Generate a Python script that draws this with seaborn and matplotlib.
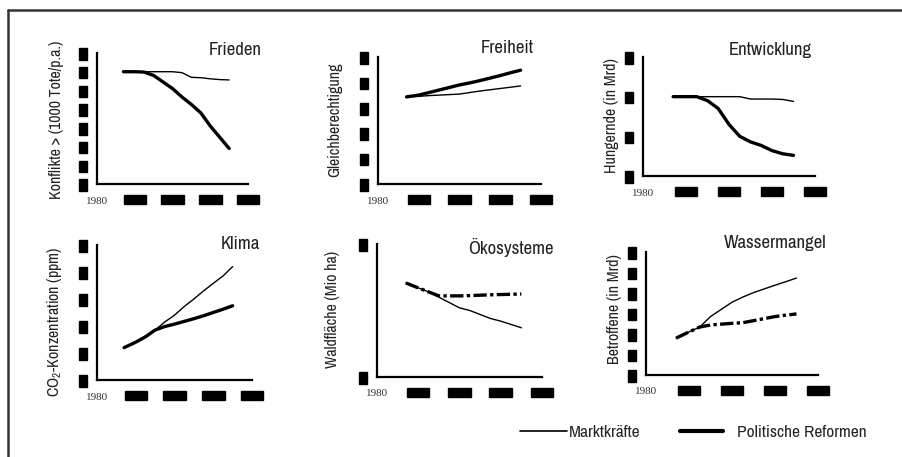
import numpy as np
import pandas as pd
import matplotlib.pyplot as plt
import seaborn as sns
from matplotlib.lines import Line2D
from matplotlib import font_manager

# ── Daten ─────────────────────────────────────────────────────
JAHRE = [1994, 2000, 2005, 2010, 2015, 2020, 2025, 2030, 2035, 2040, 2045, 2050]
X_TICKS = [1980, 2000, 2020, 2040, 2060]

frieden_markt = [6.0, 6.0, 6.0, 6.0, 6.0, 6.0, 5.95, 5.7, 5.68, 5.62, 5.58, 5.56]
frieden_reform = [6.0, 6.0, 5.98, 5.8, 5.45, 5.1, 4.65, 4.25, 3.8, 3.1, 2.5, 1.9]

freiheit_markt = [3.43, 3.45, 3.48, 3.5, 3.52, 3.54, 3.6, 3.66, 3.71, 3.76, 3.81, 3.86]
freiheit_reform = [3.43, 3.5, 3.6, 3.7, 3.8, 3.9, 3.98, 4.07, 4.17, 4.27, 4.38, 4.48]

hunger_markt = [2.0, 2.0, 2.0, 2.0, 2.0, 2.0, 2.0, 1.94, 1.94, 1.94, 1.93, 1.88]
hunger_reform = [2.0, 2.0, 2.0, 1.9, 1.7, 1.3, 1.0, 0.86, 0.77, 0.64, 0.56, 0.52]

klima_markt = [1.2, 1.4, 1.6, 1.85, 2.15, 2.4, 2.72, 3.0, 3.3, 3.58, 3.85, 4.2]
klima_reform = [1.2, 1.4, 1.6, 1.85, 1.98, 2.07, 2.17, 2.27, 2.38, 2.5, 2.62, 2.75]

wald_markt = [0.707, 0.67, 0.64, 0.6, 0.56, 0.52, 0.5, 0.47, 0.44, 0.42, 0.395, 0.37]
wald_reform = [0.707, 0.67, 0.64, 0.61, 0.61, 0.61, 0.612, 0.615, 0.618, 0.62, 0.622, 0.624]

wasser_markt = [1.8, 2.1, 2.34, 2.85, 3.2, 3.55, 3.8, 4.02, 4.2, 4.38, 4.55, 4.73]
wasser_reform = [1.8, 2.1, 2.34, 2.44, 2.48, 2.52, 2.55, 2.65, 2.75, 2.85, 2.92, 2.98]

TITEL = ['Frieden', 'Freiheit', 'Entwicklung', 'Klima', 'Ökosysteme', 'Wassermangel']
Y_LABELS = ['Konflikte > (1000 Tote/p.a.)', 'Gleichberechtigung', 'Hungernde (in Mrd)',
            'CO$_2$-Konzentration (ppm)', 'Waldfläche (Mio ha)', 'Betroffene (in Mrd)']
Y_MAX = [7, 5, 3, 5, 1, 6]
SERIEN = [(frieden_markt, frieden_reform), (freiheit_markt, freiheit_reform),
          (hunger_markt, hunger_reform), (klima_markt, klima_reform),
          (wald_markt, wald_reform), (wasser_markt, wasser_reform)]

# ── Layout in Pixeln ──────────────────────────────────────────
W, H = 903, 457
AX_BOX = [(97, 53, 248, 184), (378, 57, 541, 184), (643, 57, 815, 176),
          (97, 245, 252, 380), (377, 244, 542, 377), (646, 252, 818, 375)]
TITEL_POS = [(235, 50), (507, 48), (770, 50), (240, 244), (511, 247), (775, 243)]
YLAB_POS = [(57, 120), (335, 120), (612, 116), (55, 322), (333, 309), (615, 309)]
STRICHPUNKT = [False, False, False, False, True, True]

# schmale Schrift suchen, falls vorhanden
schrift, breite, narrow = 'Liberation Sans', 'normal', False
for f in font_manager.fontManager.ttflist:
    if 'Serif' in f.name or 'Mono' in f.name:
        continue
    if 'Narrow' in f.name or 'Condensed' in f.name:
        schrift, breite, narrow = f.name, 'normal', True
        break
    if f.stretch in ('condensed', 'semi-condensed') and f.name in ('DejaVu Sans', 'Roboto', 'Open Sans', 'Noto Sans'):
        schrift, breite, narrow = f.name, f.stretch, True

sns.set_style('white')
plt.rcParams['font.family'] = [schrift, 'DejaVu Sans']
plt.rcParams['font.stretch'] = breite
plt.rcParams['mathtext.fontset'] = 'custom'
plt.rcParams['mathtext.rm'] = schrift
plt.rcParams['mathtext.it'] = schrift
k = 1.0 if narrow else 0.86   # kleinere Schrift, wenn nichts Schmales da ist

fig = plt.figure(figsize=(W / 100, H / 100), dpi=100)

blob_x = dict(boxstyle='square,pad=0.22', fc='black', ec='black')
blob_y = dict(boxstyle='square,pad=0.15', fc='black', ec='black')

for i in range(6):
    x0, y0, x1, y1 = AX_BOX[i]
    ax = fig.add_axes([x0 / W, 1 - y1 / H, (x1 - x0) / W, (y1 - y0) / H])
    markt, reform = SERIEN[i]
    df = pd.DataFrame({'Jahr': JAHRE, 'Marktkräfte': markt, 'Politische Reformen': reform})
    df = df.melt(id_vars='Jahr', var_name='Szenario', value_name='Wert')
    dashes = {'Marktkräfte': '', 'Politische Reformen': (4, 1, 1, 1) if STRICHPUNKT[i] else ''}
    sns.lineplot(data=df, x='Jahr', y='Wert', hue='Szenario', size='Szenario', style='Szenario',
                 palette={'Marktkräfte': 'black', 'Politische Reformen': 'black'},
                 sizes={'Marktkräfte': 1.0, 'Politische Reformen': 2.4},
                 dashes=dashes, legend=False, ax=ax)
    ax.set_xlim(1980, 2060)
    ax.set_ylim(0, Y_MAX[i])
    ax.set_xticks(X_TICKS)
    ax.set_xticklabels([str(t) for t in X_TICKS])
    ax.set_yticks(range(Y_MAX[i] + 1))
    ax.set_yticklabels([str(t) for t in range(Y_MAX[i] + 1)])
    ax.set_xlabel('')
    ax.set_ylabel('')
    sns.despine(ax=ax)
    for s in ['left', 'bottom']:
        ax.spines[s].set_linewidth(1.6)
        ax.spines[s].set_color('black')
    ax.tick_params(axis='both', direction='out', length=3, width=1.3, color='black')
    ax.tick_params(axis='x', pad=6)
    ax.tick_params(axis='y', pad=5)

    labs = ax.get_xticklabels()
    labs[0].set_fontfamily('Liberation Serif')
    labs[0].set_fontsize(8)
    labs[0].set_color('#333333')
    for lab in labs[1:]:
        lab.set_fontfamily('DejaVu Sans')
        lab.set_fontsize(5)
        lab.set_fontweight('bold')
        lab.set_color('black')
        lab.set_bbox(blob_x)
    for lab in ax.get_yticklabels():
        lab.set_fontfamily('DejaVu Sans')
        lab.set_fontsize(6)
        lab.set_fontweight('bold')
        lab.set_color('black')
        lab.set_bbox(blob_y)

    tx, ty = TITEL_POS[i]
    fig.text(tx / W, 1 - ty / H, TITEL[i], ha='center', va='center', fontsize=13.5 * k, color='#222222')
    lx, ly = YLAB_POS[i]
    fig.text(lx / W, 1 - ly / H, Y_LABELS[i], rotation=90, ha='center', va='center',
             fontsize=11.5 * k, color='#222222')

# ── Legende ───────────────────────────────────────────────────
fs = 12.5 * k
fig.legend(handles=[Line2D([], [], color='black', lw=1.2)], labels=['Marktkräfte'],
           loc='center left', bbox_to_anchor=(520 / W, 1 - 432 / H), frameon=False,
           fontsize=fs, handlelength=47 / (fs * 100 / 72), handletextpad=0.1,
           borderpad=0, borderaxespad=0)
fig.legend(handles=[Line2D([], [], color='black', lw=3.0)], labels=['Politische Reformen'],
           loc='center left', bbox_to_anchor=(680 / W, 1 - 432 / H), frameon=False,
           fontsize=fs, handlelength=43 / (fs * 100 / 72), handletextpad=14 / (fs * 100 / 72),
           borderpad=0, borderaxespad=0)

# Rahmen oben und links
fig.add_artist(Line2D([8 / W, 1], [1 - 10 / H, 1 - 10 / H], transform=fig.transFigure,
                      color='#333333', lw=1.8))
fig.add_artist(Line2D([8 / W, 8 / W], [0, 1 - 10 / H], transform=fig.transFigure,
                      color='#333333', lw=1.8))

fig.savefig('out.png', dpi=100)
